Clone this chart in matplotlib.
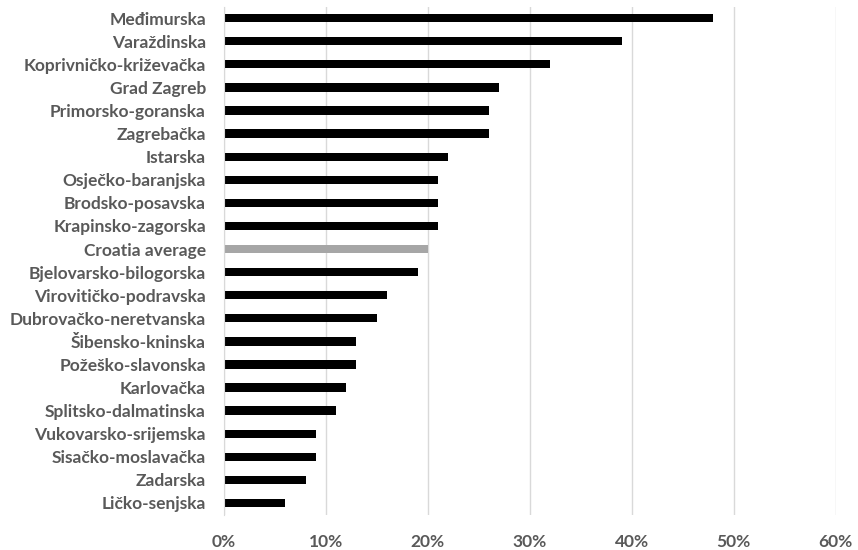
import matplotlib
matplotlib.use("Agg")
import matplotlib.pyplot as plt
from matplotlib.ticker import PercentFormatter

plt.rcParams['font.family'] = ['Lato', 'DejaVu Sans']

counties = ['Međimurska', 'Varaždinska', 'Koprivničko-križevačka', 'Grad Zagreb',
            'Primorsko-goranska', 'Zagrebačka', 'Istarska', 'Osječko-baranjska',
            'Brodsko-posavska', 'Krapinsko-zagorska', 'Croatia average',
            'Bjelovarsko-bilogorska', 'Virovitičko-podravska', 'Dubrovačko-neretvanska',
            'Šibensko-kninska', 'Požeško-slavonska', 'Karlovačka', 'Splitsko-dalmatinska',
            'Vukovarsko-srijemska', 'Sisačko-moslavačka', 'Zadarska', 'Ličko-senjska']
share = [48, 39, 32, 27, 26, 26, 22, 21, 21, 21, 20,
         19, 16, 15, 13, 13, 12, 11, 9, 9, 8, 6]

colors = ['#A6A6A6' if c == 'Croatia average' else '#000000' for c in counties]

fig = plt.figure(figsize=(8.58, 5.5), dpi=100)
ax = fig.add_axes([0.261, 0.0645, 0.713, 0.9235])

ypos = list(range(len(counties)))
ax.barh(ypos, share, height=0.36, color=colors)
ax.set_ylim(len(counties) - 0.5, -0.5)
ax.set_yticks(ypos)
ax.set_yticklabels(counties, fontsize=12.5, fontweight='bold', color='#595959')

ax.set_xlim(0, 60)
ax.set_xticks(range(0, 61, 10))
ax.xaxis.set_major_formatter(PercentFormatter(decimals=0))
for lab in ax.get_xticklabels():
    lab.set_fontsize(12.5)
    lab.set_fontweight('bold')
    lab.set_color('#595959')

ax.grid(axis='x', color='#D9D9D9', linewidth=1)
ax.set_axisbelow(True)
for s in ['top', 'right', 'bottom']:
    ax.spines[s].set_visible(False)
ax.spines['left'].set_color('#D9D9D9')
ax.tick_params(axis='both', length=0)
ax.tick_params(axis='y', pad=13)
ax.tick_params(axis='x', pad=14)

fig.savefig('out.png', dpi=100)
